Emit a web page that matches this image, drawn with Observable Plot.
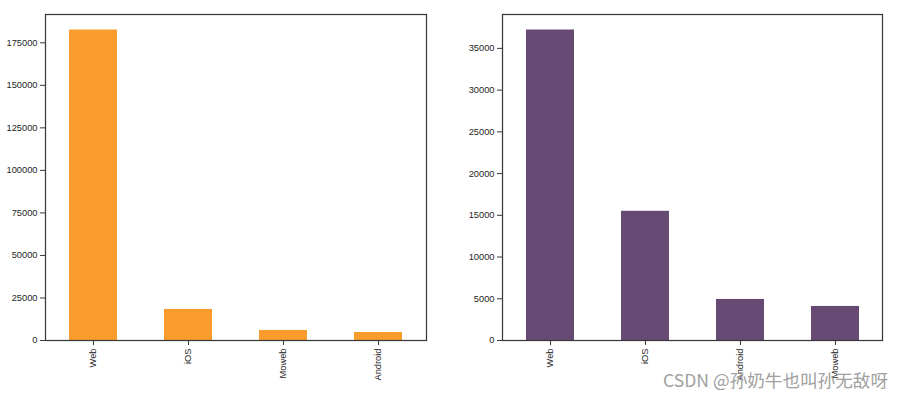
<!DOCTYPE html>
<html>
<head>
<meta charset="utf-8">
<script src="https://cdn.jsdelivr.net/npm/d3@7"></script>
<script src="https://cdn.jsdelivr.net/npm/@observablehq/plot@0.6"></script>
<style>
  html, body { margin: 0; padding: 0; background: #fff; }
  #wrap { position: relative; width: 904px; height: 398px; overflow: hidden; font-family: "Liberation Sans", Arial, sans-serif; }
  #left, #right { position: absolute; top: 0; }
  #left { left: 0; }
  #right { left: 440px; }
  #mark { position: absolute; left: 663px; top: 367px; font-size: 17.6px; color: #a0a0a0; font-family: "Noto Sans CJK SC", "Liberation Sans", sans-serif; white-space: nowrap; }
</style>
</head>
<body>
<div id="wrap">
  <div id="left"></div>
  <div id="right"></div>
  <div id="mark">CSDN @孙奶牛也叫孙无敌呀</div>
</div>
<script>
const leftCategories = ["Web", "iOS", "Moweb", "Android"];
const leftValues = [182500, 18250, 5900, 4700];
const leftTicks = [0, 25000, 50000, 75000, 100000, 125000, 150000, 175000];

const rightCategories = ["Web", "iOS", "Android", "Moweb"];
const rightValues = [37200, 15480, 4920, 4080];
const rightTicks = [0, 5000, 10000, 15000, 20000, 25000, 30000, 35000];

const axisColor = "#3a3a3a";

function chart(cats, vals, ticks, color, width, ml, mr) {
  const data = cats.map((c, i) => ({cat: c, val: vals[i]}));
  const ymax = d3.max(vals) * 1.05;
  return Plot.plot({
    width, height: 398,
    marginLeft: ml, marginRight: mr, marginTop: 14, marginBottom: 58,
    style: {fontFamily: '"Liberation Sans", Arial, sans-serif', fontSize: "9.3px", color: "#262626", background: "#fff"},
    x: {domain: cats, paddingInner: 0.5, paddingOuter: 0.25, align: 0.5, label: null},
    y: {domain: [0, ymax], label: null},
    marks: [
      Plot.barY(data, {x: "cat", y: "val", fill: color}),
      Plot.axisY({ticks, tickFormat: d => String(d), tickSize: 5, tickPadding: 3, stroke: axisColor, label: null}),
      Plot.axisX({tickRotate: -90, tickSize: 5, tickPadding: 3, stroke: axisColor, label: null}),
      Plot.frame({stroke: axisColor, strokeWidth: 1.25})
    ]
  });
}

document.getElementById("left").append(chart(leftCategories, leftValues, leftTicks, "#f99c2c", 440, 45, 14));
document.getElementById("right").append(chart(rightCategories, rightValues, rightTicks, "#674a74", 464, 62, 22));
</script>
</body>
</html>
